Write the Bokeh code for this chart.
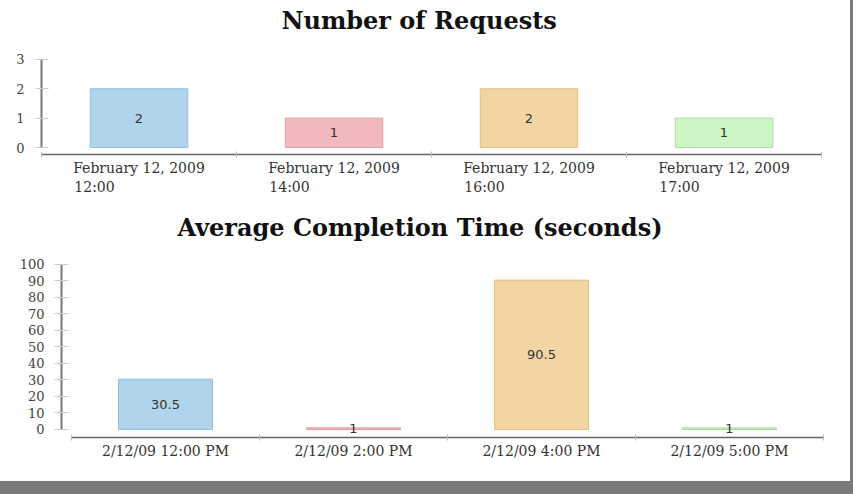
from bokeh.plotting import figure
from bokeh.models import FixedTicker, Range1d, Title, Div
from bokeh.layouts import row
from bokeh.core.properties import value
from bokeh.embed import file_html
from bokeh.resources import INLINE

# ---- data ----
req_dates = ["February 12, 2009", "February 12, 2009", "February 12, 2009", "February 12, 2009"]
req_hours = ["12:00", "14:00", "16:00", "17:00"]
req_counts = [2, 1, 2, 1]
req_yticks = [0, 1, 2, 3]

time_labels = ["2/12/09 12:00 PM", "2/12/09 2:00 PM", "2/12/09 4:00 PM", "2/12/09 5:00 PM"]
avg_times = [30.5, 1, 90.5, 1]
time_yticks = [0, 10, 20, 30, 40, 50, 60, 70, 80, 90, 100]

fill_colors = ["#b0d4ec", "#f2b8bf", "#f2d5a2", "#cdf5c6"]
line_colors = ["#8fc0e0", "#e29ea6", "#e4c083", "#a6dc9e"]

TITLE_FONT = "DejaVu Serif"
LABEL_FONT = "DejaVu Serif"
FRAME_GRAY = "#7a7a7a"

# second line padded so that it sits left-aligned under the first line
NBSP = "\u00a0"
req_labels = [f"{d}\n{h}" + NBSP * 20 for d, h in zip(req_dates, req_hours)]


def make_chart(title, labels, values, yticks, height, borders, x_range, y_range,
               title_offset, title_standoff, xlab_standoff, ylab_standoff, tick_out):
    n = len(values)
    pos = [i + 0.5 for i in range(n)]
    bl, br, bt, bb = borders
    p = figure(width=850, height=height, output_backend="svg", toolbar_location=None,
               x_range=Range1d(*x_range), y_range=Range1d(*y_range),
               min_border_left=bl, min_border_right=br, min_border_top=bt,
               min_border_bottom=bb, title=None)
    p.outline_line_color = None
    p.xgrid.visible = False
    p.ygrid.visible = False
    p.background_fill_color = "white"
    p.border_fill_color = "white"

    p.vbar(x=pos, top=values, bottom=0, width=0.5, fill_color=fill_colors[:n],
           line_color=line_colors[:n], line_width=1)
    p.text(x=pos, y=[v / 2 for v in values], text=[f"{v:g}" for v in values],
           text_align="center", text_baseline="middle",
           text_font=value("DejaVu Sans"), text_font_size="13px", text_color="#333333")

    xa = p.xaxis[0]
    xa.ticker = FixedTicker(ticks=pos, minor_ticks=list(range(n + 1)))
    xa.major_label_overrides = {pv: lab for pv, lab in zip(pos, labels)}
    xa.major_tick_in = 0
    xa.major_tick_out = 0
    xa.minor_tick_in = 3
    xa.minor_tick_out = 3
    xa.minor_tick_line_color = "#bbbbbb"
    xa.axis_line_color = "#666666"
    xa.axis_line_width = 1.5
    xa.bounds = (0, n)
    xa.major_label_text_font = LABEL_FONT
    xa.major_label_text_font_size = "14px"
    xa.major_label_text_color = "#333333"
    xa.major_label_standoff = xlab_standoff

    ya = p.yaxis[0]
    ya.ticker = FixedTicker(ticks=yticks)
    ya.bounds = (yticks[0], yticks[-1])
    ya.axis_line_color = "#777777"
    ya.axis_line_width = 2
    ya.major_tick_in = 7
    ya.major_tick_out = tick_out
    ya.major_tick_line_color = "#cccccc"
    ya.minor_tick_line_color = None
    ya.major_label_text_font = LABEL_FONT
    ya.major_label_text_font_size = "13px"
    ya.major_label_text_color = "#444444"
    ya.major_label_standoff = ylab_standoff

    p.add_layout(Title(text=title, align="left", offset=title_offset,
                       standoff=title_standoff, text_font=TITLE_FONT,
                       text_font_style="bold", text_font_size="24px",
                       text_color="#111111"), "above")
    return p


top = make_chart("Number of Requests", req_labels, req_counts, req_yticks,
                 height=200, borders=(41, 29, 36, 46),
                 x_range=(0, 4), y_range=(-0.236, 3.741),
                 title_offset=240, title_standoff=6,
                 xlab_standoff=2, ylab_standoff=11, tick_out=6)

bottom = make_chart("Average Completion Time (seconds)", time_labels, avg_times, time_yticks,
                    height=281, borders=(61, 27, 41, 44),
                    x_range=(-10 / 188, 4), y_range=(-4.85, 113.9),
                    title_offset=116, title_standoff=0,
                    xlab_standoff=2, ylab_standoff=10, tick_out=7)


def gray(w, h):
    return Div(width=w, height=h, margin=0, styles={"background-color": FRAME_GRAY})


top_row = row(top, gray(3, 200), spacing=0, margin=0)
bottom_row = row(bottom, gray(3, 281), spacing=0, margin=0)
strip = gray(853, 13)

open("out.html", "w").write(file_html([top_row, bottom_row, strip], INLINE))
